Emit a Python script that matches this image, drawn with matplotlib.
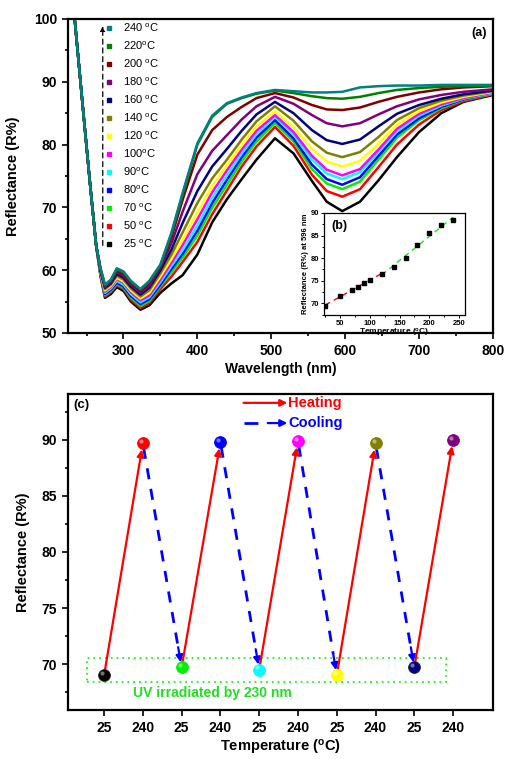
import numpy as np
import matplotlib
matplotlib.use('Agg')
import matplotlib.pyplot as plt
from matplotlib.lines import Line2D
from matplotlib.patches import Rectangle
from matplotlib.ticker import MultipleLocator

plt.rcParams['font.family'] = ['Liberation Sans', 'DejaVu Sans']
plt.rcParams['mathtext.default'] = 'regular'

# ---- panel (a): reflectance spectra ----
wl_head = [234, 245, 255, 263]
r_head = [100, 86, 73.5, 64]
wl = [269, 275, 283, 291, 300, 310, 323, 335, 350, 365, 380, 400, 420, 440,
      460, 480, 505, 530, 555, 575, 596, 620, 645, 670, 700, 730, 760, 800]

temps = [25, 50, 70, 80, 90, 100, 120, 140, 160, 180, 200, 220, 240]
labels = ['25 $^{o}$C', '50 $^{o}$C', '70 $^{o}$C', '80$^{o}$C', '90$^{o}$C',
          '100$^{o}$C', '120 $^{o}$C', '140 $^{o}$C', '160 $^{o}$C',
          '180 $^{o}$C', '200 $^{o}$C', '220$^{o}$C', '240 $^{o}$C']
colors = ['black', 'red', '#00ee00', 'blue', 'cyan', 'magenta', 'yellow',
          '#808000', '#000080', '#800080', '#800000', '#008000', '#008080']

r25 = [59.0, 55.6, 56.2, 57.3, 56.7, 55.0, 53.7, 54.4, 56.4, 57.9, 59.2, 62.5, 67.6, 71.3,
       74.5, 77.6, 81.0, 78.6, 74.2, 70.9, 69.4, 70.9, 74.3, 78.0, 82.0, 85.0, 86.8, 87.9]
r50 = [59.2, 55.8, 56.5, 57.6, 57.0, 55.3, 54.0, 54.8, 57.0, 59.0, 61.3, 64.5, 68.9, 72.7,
       76.5, 79.7, 82.8, 79.8, 75.2, 72.6, 71.7, 72.9, 76.4, 80.0, 83.2, 85.5, 86.9, 88.0]
r70 = [59.3, 56.0, 56.7, 57.8, 57.2, 55.6, 54.3, 55.1, 57.4, 59.7, 62.0, 65.5, 69.9, 73.6,
       77.3, 80.5, 83.4, 80.5, 76.1, 73.8, 72.9, 74.1, 77.6, 81.1, 83.9, 85.8, 87.1, 88.1]
r80 = [59.4, 56.2, 56.9, 58.0, 57.4, 55.9, 54.6, 55.4, 57.7, 60.2, 62.6, 66.3, 70.7, 74.4,
       78.0, 81.1, 83.9, 81.0, 76.8, 74.5, 73.6, 74.8, 78.2, 81.6, 84.2, 86.0, 87.2, 88.2]
r90 = [59.5, 56.4, 57.1, 58.3, 57.7, 56.2, 54.9, 55.7, 58.1, 60.7, 63.2, 67.1, 71.5, 75.1,
       78.6, 81.7, 84.4, 81.6, 77.6, 75.4, 74.5, 75.6, 78.8, 82.1, 84.6, 86.2, 87.3, 88.2]
r100 = [59.6, 56.6, 57.3, 58.6, 58.0, 56.5, 55.2, 56.0, 58.5, 61.2, 64.0, 68.1, 72.4, 75.9,
        79.2, 82.2, 84.7, 82.0, 78.2, 76.0, 75.1, 76.1, 79.2, 82.5, 84.9, 86.4, 87.4, 88.3]
r120 = [59.7, 56.8, 57.5, 58.8, 58.2, 56.8, 55.5, 56.4, 59.0, 61.8, 64.8, 69.2, 73.4, 76.7,
        79.9, 82.9, 85.3, 82.8, 79.3, 77.3, 76.5, 77.4, 80.1, 83.2, 85.3, 86.7, 87.6, 88.4]
r140 = [59.8, 57.0, 57.7, 59.1, 58.5, 57.1, 55.8, 56.8, 59.5, 62.5, 66.0, 70.7, 74.6, 77.6,
        80.8, 83.7, 86.1, 83.8, 80.5, 78.7, 78.0, 78.8, 81.2, 83.9, 85.8, 87.0, 87.8, 88.5]
r160 = [59.9, 57.2, 57.9, 59.4, 58.8, 57.4, 56.1, 57.2, 60.0, 63.3, 67.5, 72.6, 76.5, 79.3,
        82.2, 84.8, 86.8, 85.0, 82.3, 80.7, 80.1, 80.8, 82.9, 84.9, 86.3, 87.3, 88.0, 88.6]
r180 = [60.0, 57.3, 58.1, 59.7, 59.1, 57.7, 56.4, 57.6, 60.4, 64.3, 69.3, 75.3, 79.0, 81.5,
        84.0, 86.1, 87.6, 86.5, 84.7, 83.4, 82.9, 83.4, 84.8, 86.1, 87.2, 87.9, 88.4, 88.8]
r200 = [60.1, 57.5, 58.3, 60.0, 59.4, 58.0, 56.7, 58.0, 60.7, 65.3, 71.2, 78.4, 82.3, 84.4,
        86.0, 87.4, 88.2, 87.5, 86.3, 85.6, 85.5, 85.9, 86.8, 87.6, 88.3, 88.8, 89.1, 89.3]
r220 = [60.2, 57.6, 58.4, 60.2, 59.6, 58.2, 56.9, 58.2, 60.8, 65.8, 72.0, 80.0, 84.4, 86.5,
        87.4, 88.1, 88.6, 88.2, 87.7, 87.4, 87.3, 87.6, 88.2, 88.7, 89.0, 89.2, 89.3, 89.4]
r240 = [60.3, 57.7, 58.5, 60.3, 59.8, 58.3, 57.0, 58.3, 60.9, 66.0, 72.3, 80.2, 84.6, 86.6,
        87.5, 88.2, 88.7, 88.5, 88.3, 88.3, 88.4, 89.1, 89.3, 89.4, 89.4, 89.5, 89.5, 89.5]
spectra = [r25, r50, r70, r80, r90, r100, r120, r140, r160, r180, r200, r220, r240]

# ---- panel (b): reflectance at 596 nm ----
t_b = [25, 50, 70, 80, 90, 100, 120, 140, 160, 180, 200, 220, 240]
r_b = [69.4, 71.7, 72.9, 73.6, 74.5, 75.1, 76.5, 78.0, 80.1, 82.9, 85.5, 87.3, 88.4]

# ---- panel (c): cycling ----
cyc_labels = ['25', '240'] * 5
cyc_r = [69.0, 89.7, 69.7, 89.8, 69.5, 89.9, 69.0, 89.7, 69.7, 90.0]
cyc_colors = ['black', 'red', '#00ee00', 'blue', 'cyan', 'magenta', 'yellow',
              '#808000', '#000080', '#800080']

fig = plt.figure(figsize=(5.05, 7.59), dpi=100)
ax = fig.add_axes([0.1347, 0.5613, 0.8416, 0.4137])

for r, c in zip(spectra, colors):
    ax.plot(wl_head + wl, r_head + r, color=c, lw=1.8)

ax.set_xlim(225, 800)
ax.set_ylim(50, 100)
ax.xaxis.set_major_locator(MultipleLocator(100))
ax.xaxis.set_minor_locator(MultipleLocator(50))
ax.yaxis.set_major_locator(MultipleLocator(10))
ax.yaxis.set_minor_locator(MultipleLocator(5))
ax.set_xlabel('Wavelength (nm)', fontsize=10, fontweight='bold', labelpad=3)
ax.set_ylabel('Reflectance (R%)', fontsize=10.5, fontweight='bold', labelpad=10)
ax.text(0.985, 0.975, '(a)', transform=ax.transAxes, ha='right', va='top',
        fontsize=9, fontweight='bold')

handles = [Line2D([], [], marker='s', ms=2.2, ls='none', color=c) for c in colors]
leg = ax.legend(handles[::-1], labels[::-1], loc='upper left',
                bbox_to_anchor=(0.075, 1.005), frameon=False, fontsize=8,
                handlelength=0.8, handletextpad=0.9, labelspacing=0.5,
                borderaxespad=0)
ax.annotate('', xy=(272, 99.3), xytext=(272, 63.5),
            arrowprops=dict(arrowstyle='-|>', color='black', lw=0.9,
                            linestyle=(0, (4, 3)), mutation_scale=7))

# inset (b)
axb = fig.add_axes([0.6416, 0.585, 0.2792, 0.1344])
fit1 = np.polyfit(t_b[:7], r_b[:7], 1)
fit2 = np.polyfit(t_b[6:], r_b[6:], 1)
x1 = np.array([t_b[0], t_b[6]])
x2 = np.array([t_b[6], t_b[-1]])
axb.plot(x1, np.polyval(fit1, x1), color='red', lw=1, ls=(0, (4, 3)))
axb.plot(x2, np.polyval(fit2, x2), color='#22dd22', lw=1, ls=(0, (4, 3)))
axb.plot(t_b, r_b, 's', color='black', ms=3.5)
axb.set_xlim(23, 260)
axb.set_ylim(67.4, 90)
axb.xaxis.set_major_locator(MultipleLocator(50))
axb.xaxis.set_minor_locator(MultipleLocator(25))
axb.yaxis.set_major_locator(MultipleLocator(5))
axb.yaxis.set_minor_locator(MultipleLocator(2.5))
axb.tick_params(which='both', labelsize=5.5, width=0.7, pad=1)
axb.tick_params(which='major', length=2.5)
axb.tick_params(which='minor', length=1.5)
for lab in axb.get_xticklabels() + axb.get_yticklabels():
    lab.set_fontweight('bold')
axb.set_xlabel('Temperature ($^{o}$C)', fontsize=6, fontweight='bold', labelpad=0)
axb.set_ylabel('Reflectance (R%) at 596 nm', fontsize=5.5, fontweight='bold', labelpad=1)
axb.text(0.05, 0.93, '(b)', transform=axb.transAxes, ha='left', va='top',
         fontsize=9, fontweight='bold')
for s in axb.spines.values():
    s.set_linewidth(0.9)

# panel (c)
axc = fig.add_axes([0.1347, 0.0646, 0.8416, 0.4163])
pos = np.arange(1, len(cyc_r) + 1)
for k in range(len(cyc_r) - 1):
    p0 = np.array([pos[k], cyc_r[k]])
    p1 = np.array([pos[k + 1], cyc_r[k + 1]])
    if cyc_r[k + 1] > cyc_r[k]:
        axc.annotate('', xy=p1 - (p1 - p0) * 0.015, xytext=p0,
                     arrowprops=dict(arrowstyle='-|>', color='red', lw=1.6,
                                     shrinkA=0, shrinkB=2, mutation_scale=10))
    else:
        a = p0 + (p1 - p0) * 0.02
        b = p1 - (p1 - p0) * 0.09
        axc.plot([a[0], b[0]], [a[1], b[1]], color='blue', lw=2,
                 ls=(0, (4, 3.5)))
        axc.annotate('', xy=p1 - (p1 - p0) * 0.01, xytext=b,
                     arrowprops=dict(arrowstyle='-|>', color='blue', lw=1.6,
                                     shrinkA=0, shrinkB=2, mutation_scale=10))
for x, y, c in zip(pos, cyc_r, cyc_colors):
    axc.plot(x, y, 'o', ms=8.5, color=c, mec='#222222' if c in ('black', '#000080') else c,
             mew=0.6, zorder=5)
    axc.plot(x - 0.05, y + 0.2, 'o', ms=3, color='white', alpha=0.45, mew=0, zorder=6)

axc.set_xlim(0.07, 11.03)
axc.set_ylim(65.9, 94.1)
axc.set_xticks(pos)
axc.set_xticklabels(cyc_labels)
axc.yaxis.set_major_locator(MultipleLocator(5))
axc.yaxis.set_minor_locator(MultipleLocator(2.5))
axc.add_patch(Rectangle((0.57, 68.43), 9.25, 2.14, fill=False,
                        edgecolor='#22ee22', lw=1.3, ls=(0, (1, 2.2))))
axc.text(1.75, 67.4, 'UV irradiated by 230 nm', color='#22dd22', fontsize=10,
         fontweight='bold', va='center', ha='left')
axc.annotate('', xy=(0.516, 0.972), xytext=(0.413, 0.972), xycoords='axes fraction',
             arrowprops=dict(arrowstyle='-|>', color='red', lw=1.6, shrinkA=0,
                             shrinkB=0, mutation_scale=10))
axc.plot([0.413, 0.46], [0.908, 0.908], transform=axc.transAxes, color='blue',
         lw=2, ls=(0, (5, 4)))
axc.annotate('', xy=(0.516, 0.908), xytext=(0.47, 0.908), xycoords='axes fraction',
             arrowprops=dict(arrowstyle='-|>', color='blue', lw=1.6, shrinkA=0,
                             shrinkB=0, mutation_scale=10))
axc.text(0.518, 0.972, 'Heating', transform=axc.transAxes, color='red', fontsize=10.5,
         fontweight='bold', va='center', ha='left')
axc.text(0.518, 0.908, 'Cooling', transform=axc.transAxes, color='blue', fontsize=10.5,
         fontweight='bold', va='center', ha='left')
axc.text(0.012, 0.965, '(c)', transform=axc.transAxes, ha='left', va='center',
         fontsize=9.5, fontweight='bold')
axc.set_xlabel('Temperature ($^{o}$C)', fontsize=10.5, fontweight='bold', labelpad=2)
axc.set_ylabel('Reflectance (R%)', fontsize=10.5, fontweight='bold', labelpad=8)

for a in (ax, axc):
    a.tick_params(which='both', labelsize=10, width=1.2, direction='out')
    a.tick_params(which='major', length=4.5)
    a.tick_params(which='minor', length=2.5)
    for lab in a.get_xticklabels() + a.get_yticklabels():
        lab.set_fontweight('bold')
    for s in a.spines.values():
        s.set_linewidth(1.6)
axc.tick_params(axis='x', pad=3.5)

fig.savefig('out.png', dpi=100)
